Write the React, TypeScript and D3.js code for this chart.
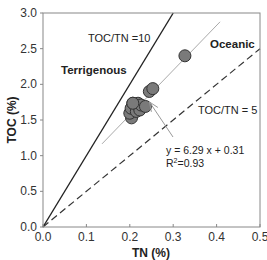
import React from "react";
import * as d3 from "d3";

const tnValues = [0.204, 0.200, 0.203, 0.207, 0.215, 0.219, 0.223, 0.226, 0.236, 0.207, 0.245, 0.253, 0.327];
const tocValues = [1.53, 1.595, 1.665, 1.735, 1.62, 1.735, 1.64, 1.71, 1.69, 1.735, 1.90, 1.94, 2.40];
const xTicks = [0, 0.1, 0.2, 0.3, 0.4, 0.5];
const yTicks = [0, 0.5, 1.0, 1.5, 2.0, 2.5, 3.0];
const ratioHigh = 10;
const ratioLow = 5;
const regSlope = 6.29;
const regIntercept = 0.31;
const regRange = [0.136, 0.408];

export default function App() {
  const W = 267, H = 260;
  const m = { left: 43, right: 260, top: 13, bottom: 227 };
  const x = d3.scaleLinear().domain([0, 0.5]).range([m.left, m.right]);
  const y = d3.scaleLinear().domain([0, 3]).range([m.bottom, m.top]);
  const font = "'Liberation Sans', Arial, sans-serif";
  const line = d3.line<[number, number]>().x(d => x(d[0])).y(d => y(d[1]));
  const highLine = line([[0, 0], [3 / ratioHigh, 3]]);
  const lowLine = line([[0, 0], [0.5, 0.5 * ratioLow]]);
  const regLine = line(regRange.map(v => [v, regSlope * v + regIntercept] as [number, number]));
  const points = tnValues.map((v, i) => [v, tocValues[i]]);
  const ax1 = 173, ay1 = 137, ax2 = 149.5, ay2 = 102;
  const ang = Math.atan2(ay1 - ay2, ax1 - ax2);
  const hl = 10, ha = 0.4;
  return (
    <svg width={W} height={H} style={{ position: "absolute", left: 0, top: 0 }}>
      <rect x={0} y={0} width={W} height={H} fill="#fff" />
      <path d={regLine!} stroke="#aaa" strokeWidth={1} fill="none" />
      <path d={highLine!} stroke="#222" strokeWidth={1.4} fill="none" />
      <path d={lowLine!} stroke="#333" strokeWidth={1.2} strokeDasharray="7,4" fill="none" />
      <rect x={m.left} y={m.top} width={m.right - m.left} height={m.bottom - m.top} fill="none" stroke="#888" strokeWidth={1} />
      {xTicks.map(t => (
        <g key={"x" + t}>
          <line x1={x(t)} x2={x(t)} y1={m.bottom} y2={m.bottom - 3} stroke="#888" />
          <text x={x(t)} y={m.bottom + 14} fontSize={12} fontFamily={font} fill="#333" textAnchor="middle">{t.toFixed(1)}</text>
        </g>
      ))}
      {yTicks.map(t => (
        <g key={"y" + t}>
          <line x1={m.left} x2={m.left - 3} y1={y(t)} y2={y(t)} stroke="#888" />
          <text x={m.left - 6} y={y(t) + 4} fontSize={12} fontFamily={font} fill="#333" textAnchor="end">{t.toFixed(1)}</text>
        </g>
      ))}
      {points.map((p, i) => (
        <circle key={i} cx={x(p[0])} cy={y(p[1])} r={6} fill="#7a7a7a" stroke="#333" strokeWidth={1} />
      ))}
      <line x1={ax1} y1={ay1} x2={ax2} y2={ay2} stroke="#999" strokeWidth={1} />
      <path d={`M${ax2 + hl * Math.cos(ang - ha)},${ay2 + hl * Math.sin(ang - ha)} L${ax2},${ay2} L${ax2 + hl * Math.cos(ang + ha)},${ay2 + hl * Math.sin(ang + ha)}`} stroke="#999" strokeWidth={1} fill="none" />
      <text x={88} y={42} fontSize={11} fontFamily={font} fill="#222">TOC/TN =10</text>
      <text x={198} y={114} fontSize={11} fontFamily={font} fill="#222">TOC/TN = 5</text>
      <text x={61} y={74} fontSize={11.5} fontWeight="bold" fontFamily={font} fill="#222">Terrigenous</text>
      <text x={210} y={48} fontSize={11.5} fontWeight="bold" fontFamily={font} fill="#222">Oceanic</text>
      <text x={166} y={154} fontSize={10.5} fontFamily={font} fill="#222">y = 6.29 x + 0.31</text>
      <text x={166} y={167} fontSize={10.5} fontFamily={font} fill="#222">R<tspan dy={-4} fontSize={7}>2</tspan><tspan dy={4}>=0.93</tspan></text>
      <text x={151} y={257} fontSize={12} fontWeight="bold" fontFamily={font} fill="#222" textAnchor="middle">TN (%)</text>
      <text transform={`translate(16,${(m.top + m.bottom) / 2}) rotate(-90)`} fontSize={12} fontWeight="bold" fontFamily={font} fill="#222" textAnchor="middle">TOC (%)</text>
    </svg>
  );
}
